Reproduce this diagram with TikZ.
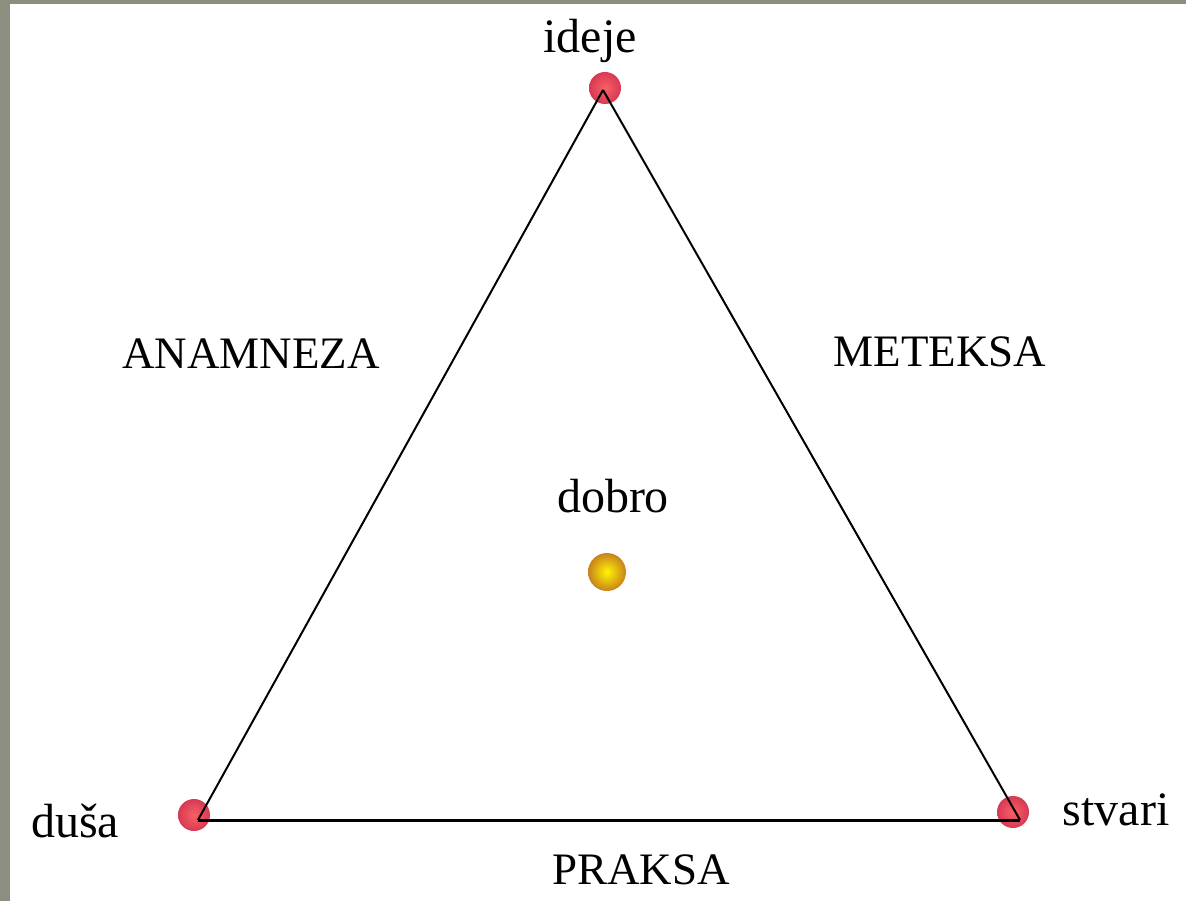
\documentclass[tikz,border=0pt]{standalone}
\usepackage{fontspec}
\setmainfont{Liberation Serif}
\definecolor{frame}{RGB}{140,143,128}
\definecolor{dotred}{RGB}{214,58,84}
\definecolor{dotlight}{RGB}{250,96,100}
\definecolor{goldout}{RGB}{200,130,30}
\definecolor{goldin}{RGB}{255,245,0}
\tikzset{
  vert/.style={circle,minimum size=32pt,inner sep=0pt,draw=none,inner color=dotlight,outer color=dotred},
  sun/.style={circle,minimum size=38pt,inner sep=0pt,draw=none,inner color=goldin,outer color=goldout},
  side/.style={line width=2pt,black},
  base/.style={line width=3pt,black},
  caps/.style={font=\fontsize{45}{50}\selectfont,anchor=base,inner sep=0pt},
  lower/.style={font=\fontsize{48}{52}\selectfont,anchor=base,inner sep=0pt}
}
\begin{document}
\begin{tikzpicture}[x=1pt,y=-1pt]
\useasboundingbox (0,0) rectangle (1186,901);
\fill[white] (0,0) rectangle (1186,901);
\fill[frame] (0,0) rectangle (10,901);
\fill[frame] (0,0) rectangle (1186,4);
% vertices
\node[vert] (ideje) at (605,88) {};
\node[vert] (dusa) at (194,815) {};
\node[vert] (stvari) at (1013,812) {};
\node[sun] (dobro) at (607,572) {};
% corner points of triangle
\coordinate (T) at (603,90);
\coordinate (L) at (198,820);
\coordinate (R) at (1020,820);
\draw[side] (T) -- (L);
\draw[side] (T) -- (R);
\draw[base] (L) -- (R);
% labels
\node[lower] (lideje) at (590,53) {ideje};
\node[lower] (ldobro) at (613,512) {dobro};
\node[lower] (ldusa) at (75,837) {duša};
\node[lower] (lstvari) at (1116,825) {stvari};
\node[caps] (anam) at (251,368) {ANAMNEZA};
\node[caps] (met) at (940,366) {METEKSA};
\node[caps] (prak) at (641,884) {PRAKSA};
\end{tikzpicture}
\end{document}
